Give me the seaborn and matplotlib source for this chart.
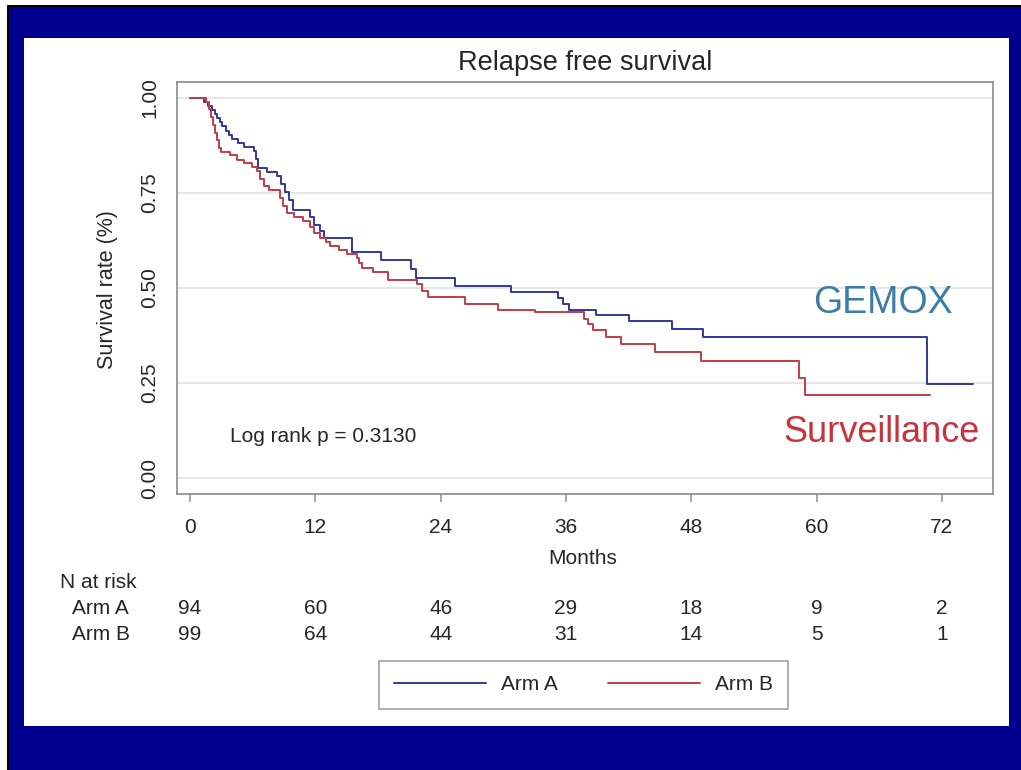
import numpy as np
import pandas as pd
import matplotlib
matplotlib.use("Agg")
import matplotlib.pyplot as plt
import seaborn as sns
from matplotlib.patches import Rectangle
from matplotlib.transforms import blended_transform_factory

# Kaplan-Meier step estimates (month of each step, survival after the step)
arm_a_months = [0, 1.3, 1.7, 2.1, 2.4, 2.6, 2.9, 3.1, 3.4, 3.7, 4.0, 4.6, 5.2,
                6.1, 6.3, 6.5, 7.4, 8.3, 8.7, 9.1, 9.5, 9.9, 11.5, 11.9, 12.4,
                12.8, 15.5, 18.3, 21.2, 21.6, 25.4, 30.7, 35.2, 35.7, 36.3,
                38.9, 42.0, 46.2, 49.1, 70.6, 75.0]
arm_a_surv = [1.0, 0.989, 0.978, 0.968, 0.957, 0.946, 0.936, 0.925, 0.914,
              0.903, 0.893, 0.882, 0.871, 0.860, 0.839, 0.817, 0.806, 0.795,
              0.774, 0.752, 0.731, 0.706, 0.687, 0.666, 0.650, 0.632, 0.594,
              0.573, 0.550, 0.526, 0.505, 0.490, 0.475, 0.458, 0.443, 0.429,
              0.412, 0.392, 0.370, 0.247, 0.247]

arm_b_months = [0, 1.5, 1.8, 2.0, 2.2, 2.4, 2.6, 2.8, 3.0, 3.8, 4.5, 5.2, 5.9,
                6.4, 6.7, 7.1, 7.6, 8.6, 8.9, 9.3, 10.0, 10.8, 11.5, 11.9,
                12.4, 13.0, 13.4, 14.3, 15.0, 16.0, 16.2, 16.5, 17.5, 19.0,
                21.7, 22.2, 22.8, 26.3, 29.5, 33.0, 37.7, 38.1, 38.6, 39.8,
                41.3, 44.5, 48.9, 58.3, 58.9, 70.9]
arm_b_surv = [1.0, 0.990, 0.970, 0.949, 0.929, 0.909, 0.889, 0.869, 0.859,
              0.849, 0.838, 0.828, 0.818, 0.808, 0.788, 0.768, 0.758, 0.737,
              0.717, 0.697, 0.687, 0.676, 0.660, 0.645, 0.632, 0.620, 0.610,
              0.600, 0.590, 0.580, 0.565, 0.553, 0.542, 0.521, 0.510, 0.492,
              0.476, 0.458, 0.442, 0.436, 0.418, 0.404, 0.390, 0.371, 0.353,
              0.331, 0.308, 0.263, 0.218, 0.218]

# Number at risk table
risk_months = [0, 12, 24, 36, 48, 60, 72]
risk_arm_a = [94, 60, 46, 29, 18, 9, 2]
risk_arm_b = [99, 64, 44, 31, 14, 5, 1]

x_ticks = [0, 12, 24, 36, 48, 60, 72]
y_ticks = [0.0, 0.25, 0.50, 0.75, 1.00]
y_tick_labels = ["0.00", "0.25", "0.50", "0.75", "1.00"]

arm_names = ["Arm A", "Arm B"]

df = pd.concat([
    pd.DataFrame({"Months": arm_a_months, "Survival": arm_a_surv, "Arm": arm_names[0]}),
    pd.DataFrame({"Months": arm_b_months, "Survival": arm_b_surv, "Arm": arm_names[1]}),
], ignore_index=True)

sns.set_style("white")
plt.rcParams["font.family"] = ["Liberation Sans", "DejaVu Sans"]

NAVY = "#00008E"
BLUE = "#33379A"
RED = "#C23C46"
TEXT = "#262626"
SPINE = "#8C8C8C"

W, H = 1021, 770
fig = plt.figure(figsize=(W / 100, H / 100), dpi=100)
fig.patch.set_facecolor(NAVY)


def px_rect(x0, y0, x1, y1, color):
    """Rectangle in pixel coordinates measured from the top-left corner."""
    fig.patches.append(Rectangle((x0 / W, 1 - y1 / H), (x1 - x0) / W, (y1 - y0) / H,
                                 transform=fig.transFigure, facecolor=color,
                                 edgecolor="none", zorder=-10))


def px_text(x, y, s, **kw):
    return fig.text(x / W, 1 - y / H, s, **kw)


# slide frame: thin white margin and black rule on the top and left edges
px_rect(-5, -5, W + 5, 5, "white")
px_rect(-5, -5, 7, H + 5, "white")
px_rect(7, 5, W + 5, 7, "black")
px_rect(7, 5, 9, H + 5, "black")
px_rect(24, 38, 1009, 726, "white")

ax = fig.add_axes([177 / W, 1 - 494 / H, (993 - 177) / W, (494 - 82) / H])
ax.set_facecolor("white")

sns.lineplot(data=df, x="Months", y="Survival", hue="Arm",
             palette={arm_names[0]: BLUE, arm_names[1]: RED},
             drawstyle="steps-post", estimator=None, sort=False,
             linewidth=1.4, ax=ax)

ax.set_xlim(-1.25, 76.9)
ax.set_ylim(-0.042, 1.042)
ax.set_xticks(x_ticks)
ax.set_xticklabels([str(t) for t in x_ticks])
ax.set_yticks(y_ticks)
ax.set_yticklabels(y_tick_labels, rotation=90, va="center")
ax.yaxis.grid(True, color="#E3E3E3", linewidth=1.2)
ax.xaxis.grid(False)
ax.set_axisbelow(True)

for sp in ax.spines.values():
    sp.set_visible(True)
    sp.set_color(SPINE)
    sp.set_linewidth(1.2)

ax.tick_params(axis="both", which="major", direction="out", length=6, width=1.1,
               color=SPINE, labelsize=15, labelcolor=TEXT)
ax.tick_params(axis="y", pad=7)
ax.tick_params(axis="x", pad=11, bottom=True)
ax.set_xlabel("")
ax.set_ylabel("")

# titles and axis labels
px_text(585, 63, "Relapse free survival", ha="center", va="center", fontsize=19.5, color=TEXT)
px_text(583, 558, "Months", ha="center", va="center", fontsize=15, color=TEXT)
px_text(107, 290, "Survival rate (%)", ha="center", va="center", rotation=90,
        fontsize=15.5, color=TEXT)

# annotations inside the plot
ax.text(3.8, 0.108, "Log rank p = 0.3130", ha="left", va="center", fontsize=15, color=TEXT)
ax.text(0.865, 0.464, "GEMOX", transform=ax.transAxes, ha="center", va="center",
        fontsize=27, color="#3C7DA8")
ax.text(0.864, 0.150, "Surveillance", transform=ax.transAxes, ha="center", va="center",
        fontsize=26, color="#C8323C")

# number at risk table
tr = blended_transform_factory(ax.transData, fig.transFigure)
px_text(60, 582, "N at risk", ha="left", va="center", fontsize=15, color=TEXT)
px_text(72, 609, arm_names[0], ha="left", va="center", fontsize=15, color=TEXT)
px_text(72, 635, arm_names[1], ha="left", va="center", fontsize=15, color=TEXT)
for m, na, nb in zip(risk_months, risk_arm_a, risk_arm_b):
    ax.text(m, 1 - 609 / H, str(na), transform=tr, ha="center", va="center",
            fontsize=15, color=TEXT, clip_on=False)
    ax.text(m, 1 - 635 / H, str(nb), transform=tr, ha="center", va="center",
            fontsize=15, color=TEXT, clip_on=False)

# legend below the table
handles, labels = ax.get_legend_handles_labels()
if ax.get_legend() is not None:
    ax.get_legend().remove()
leg = fig.legend(handles, labels, loc="center", bbox_to_anchor=(583.5 / W, 1 - 685 / H),
                 ncol=2, fontsize=15, frameon=True, fancybox=False,
                 handlelength=4.4, handletextpad=0.75, columnspacing=2.4,
                 borderpad=0.7, borderaxespad=0, labelcolor=TEXT)
leg.get_frame().set_edgecolor("#8C8C8C")
leg.get_frame().set_linewidth(1.2)
for line in leg.get_lines():
    line.set_linewidth(1.4)

fig.savefig("out.png", dpi=100, facecolor=fig.get_facecolor())
